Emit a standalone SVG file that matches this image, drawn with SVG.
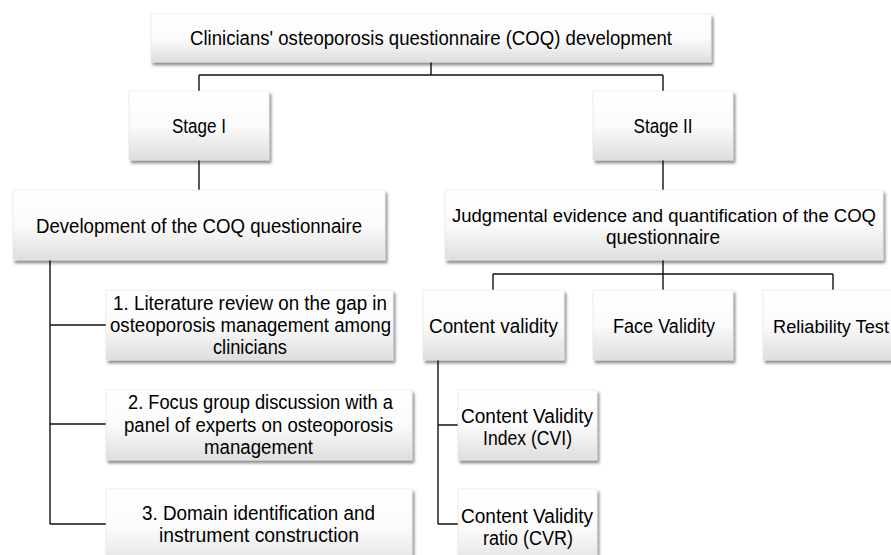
<svg xmlns="http://www.w3.org/2000/svg" width="891" height="555" viewBox="0 0 891 555">
<defs>
<linearGradient id="g" x1="0" y1="0" x2="0" y2="1">
<stop offset="0" stop-color="#ffffff"/>
<stop offset="0.5" stop-color="#fbfbfb"/>
<stop offset="1" stop-color="#dedede"/>
</linearGradient>
<filter id="sh" x="-10%" y="-10%" width="130%" height="140%">
<feDropShadow dx="2" dy="3" stdDeviation="1.4" flood-color="#000" flood-opacity="0.45"/>
</filter>
</defs>
<style>
.box{fill:url(#g);stroke:#e4e4e4;stroke-width:0.6;filter:url(#sh)}
text{font-family:"Liberation Sans",Arial,sans-serif;font-size:19.5px;fill:#000;text-anchor:middle}
.sm{font-size:18px}
.c{fill:none;stroke:#111;stroke-width:1.4}
</style>
<rect width="891" height="555" fill="#fff"/>
<g id="connectors">
<path class="c" d="M431,62V75M199,75H663M199,75V91M663,75V91"/>
<path class="c" d="M199,160V190M663,160V190"/>
<path class="c" d="M50,260V524M50,325H106M50,424H106M50,524H106"/>
<path class="c" d="M663,260V274M493,274H833M493,274V290M663,274V290M833,274V290"/>
<path class="c" d="M438,360V524M438,425H458M438,524H458"/>
</g>
<g id="n-title"><rect class="box" x="151" y="14" width="560" height="48"/>
<text x="431" y="44.5" textLength="482" lengthAdjust="spacingAndGlyphs">Clinicians' osteoporosis questionnaire (COQ) development</text></g>
<g id="n-stage1"><rect class="box" x="129" y="91" width="140" height="69"/>
<text x="199" y="132.5" textLength="54" lengthAdjust="spacingAndGlyphs">Stage I</text></g>
<g id="n-stage2"><rect class="box" x="593" y="91" width="140" height="69"/>
<text x="663" y="132.5" textLength="59" lengthAdjust="spacingAndGlyphs">Stage II</text></g>
<g id="n-dev"><rect class="box" x="13" y="190" width="372" height="70"/>
<text x="199" y="232.5" textLength="326" lengthAdjust="spacingAndGlyphs">Development of the COQ questionnaire</text></g>
<g id="n-judg"><rect class="box" x="445" y="190" width="438" height="70"/>
<text class="sm" x="664" y="221.5" textLength="424" lengthAdjust="spacingAndGlyphs">Judgmental evidence and quantification of the COQ</text>
<text x="663" y="243.5" textLength="114" lengthAdjust="spacingAndGlyphs">questionnaire</text></g>
<g id="n-content"><rect class="box" x="423" y="290" width="141" height="70"/>
<text x="493.5" y="332.5" textLength="129" lengthAdjust="spacingAndGlyphs">Content validity</text></g>
<g id="n-face"><rect class="box" x="593" y="290" width="140" height="70"/>
<text x="664" y="332.5" textLength="102" lengthAdjust="spacingAndGlyphs">Face Validity</text></g>
<g id="n-rel"><rect class="box" x="763" y="290" width="129" height="70"/>
<text class="sm" x="831" y="332.5" textLength="116" lengthAdjust="spacingAndGlyphs">Reliability Test</text></g>
<g id="n-lit"><rect class="box" x="106" y="290" width="287" height="70"/>
<text x="250" y="310" textLength="274" lengthAdjust="spacingAndGlyphs">1. Literature review on the gap in</text>
<text x="250.5" y="332" textLength="281" lengthAdjust="spacingAndGlyphs">osteoporosis management among</text>
<text x="250" y="354" textLength="74" lengthAdjust="spacingAndGlyphs">clinicians</text></g>
<g id="n-focus"><rect class="box" x="106" y="390" width="306" height="70"/>
<text x="260.5" y="409" textLength="265" lengthAdjust="spacingAndGlyphs">2. Focus group discussion with a</text>
<text x="258.5" y="431.5" textLength="269" lengthAdjust="spacingAndGlyphs">panel of experts on osteoporosis</text>
<text x="258.5" y="453.5" textLength="109" lengthAdjust="spacingAndGlyphs">management</text></g>
<g id="n-domain"><rect class="box" x="106" y="489" width="306" height="80"/>
<text x="258.5" y="519.5" textLength="233" lengthAdjust="spacingAndGlyphs">3. Domain identification and</text>
<text x="259" y="542" textLength="200" lengthAdjust="spacingAndGlyphs">instrument construction</text></g>
<g id="n-cvi"><rect class="box" x="458" y="390" width="139" height="70"/>
<text x="527" y="422.5" textLength="132" lengthAdjust="spacingAndGlyphs">Content Validity</text>
<text x="527.5" y="445" textLength="89" lengthAdjust="spacingAndGlyphs">Index (CVI)</text></g>
<g id="n-cvr"><rect class="box" x="458" y="489" width="139" height="80"/>
<text x="527" y="522.5" textLength="132" lengthAdjust="spacingAndGlyphs">Content Validity</text>
<text x="528" y="545" textLength="90" lengthAdjust="spacingAndGlyphs">ratio (CVR)</text></g>
</svg>
